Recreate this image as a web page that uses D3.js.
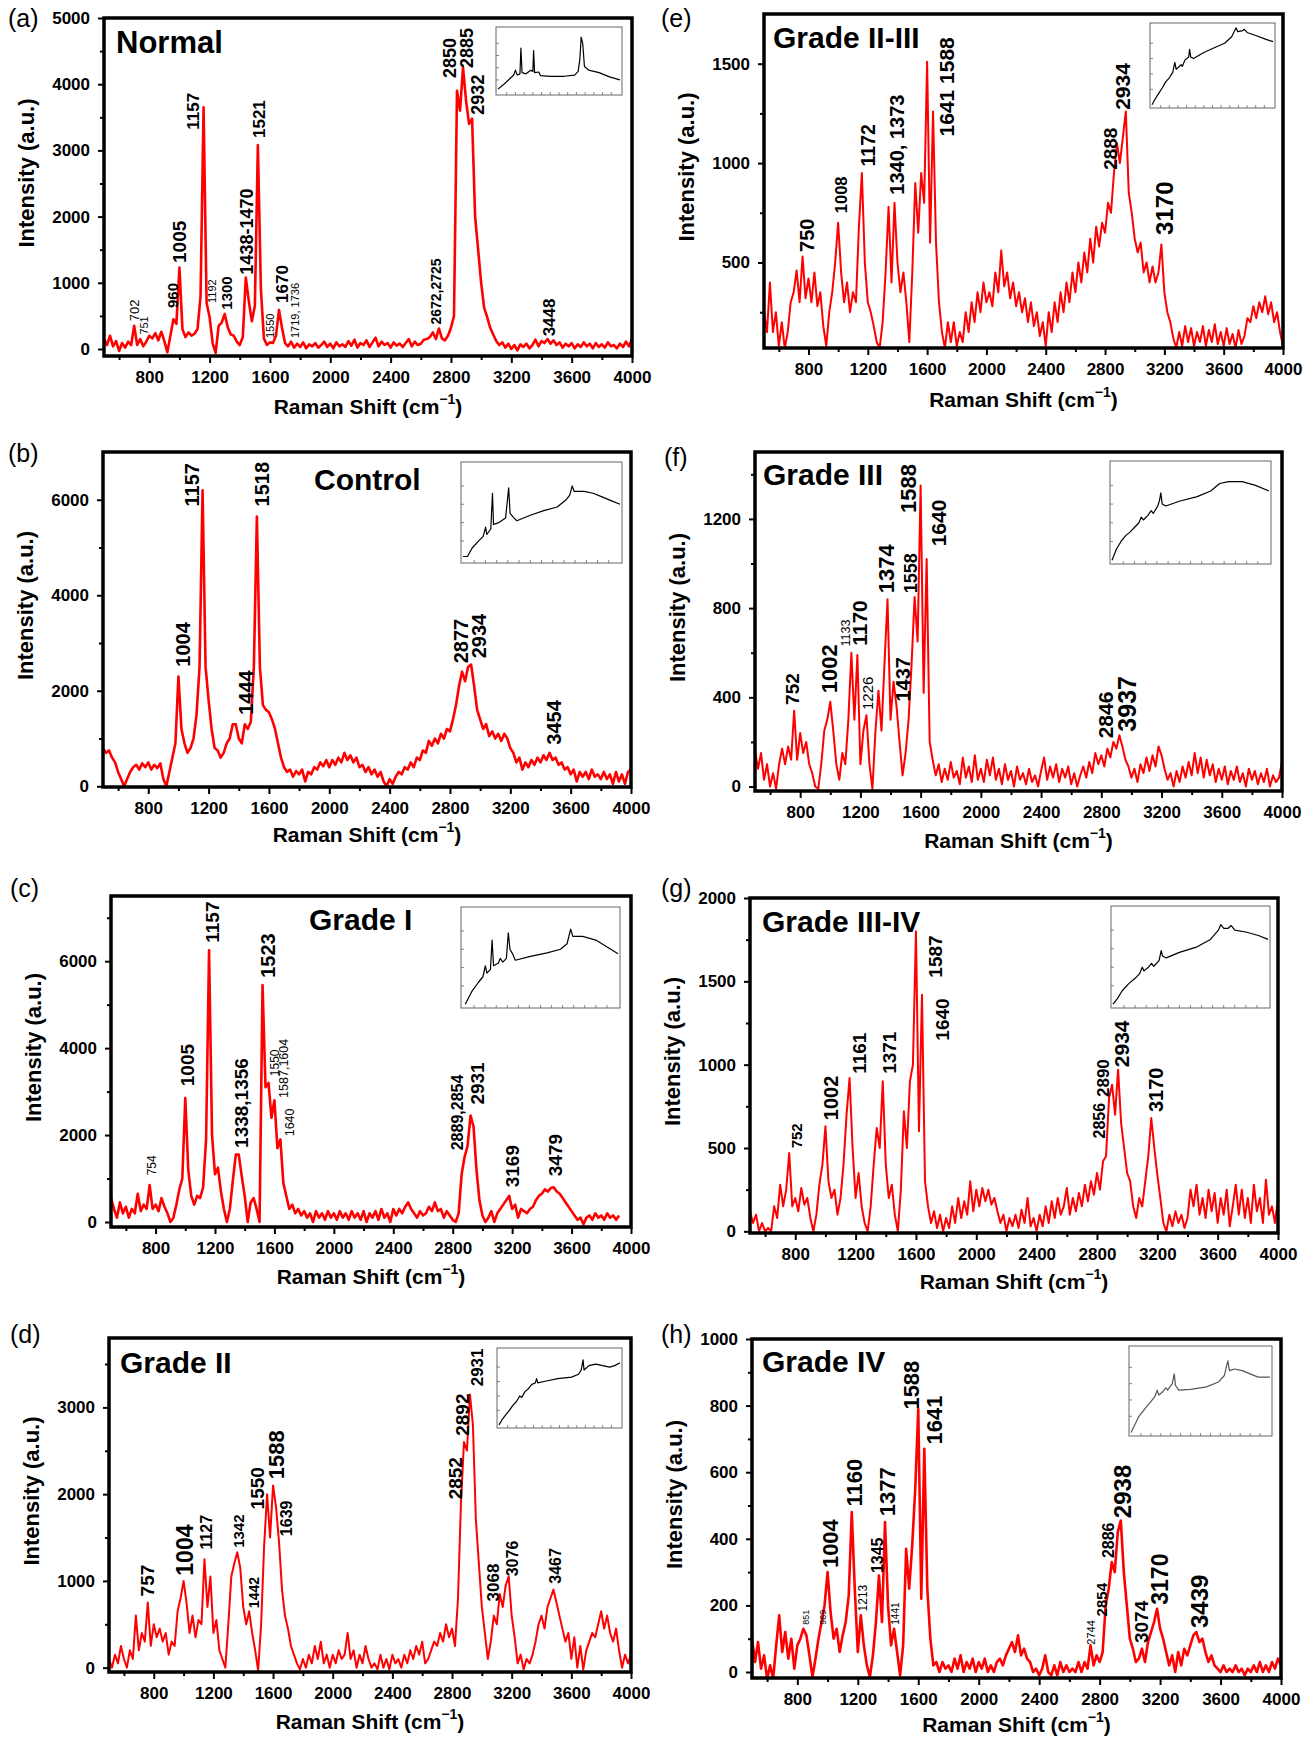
<!DOCTYPE html>
<html>
<head>
<meta charset="utf-8">
<script src="https://cdn.jsdelivr.net/npm/d3@7"></script>
<style>
  body { margin: 0; background: #fff; }
  svg text { font-family: "Liberation Sans", Arial, Helvetica, sans-serif; }
</style>
</head>
<body>
<svg id="fig" width="1315" height="1739"></svg>
<script>
// Raman shift sampling (cm-1), shared by all eight spectra
const shift = [
  500, 520, 540, 560, 580, 600, 620, 640, 660, 680,
  700, 720, 740, 760, 780, 800, 820, 840, 860, 880,
  900, 920, 940, 960, 980, 1000, 1020, 1040, 1060, 1080,
  1100, 1120, 1140, 1160, 1180, 1200, 1220, 1240, 1260, 1280,
  1300, 1320, 1340, 1360, 1380, 1400, 1420, 1440, 1460, 1480,
  1500, 1520, 1540, 1560, 1580, 1600, 1620, 1640, 1660, 1680,
  1700, 1720, 1740, 1760, 1780, 1800, 1820, 1840, 1860, 1880,
  1900, 1920, 1940, 1960, 1980, 2000, 2020, 2040, 2060, 2080,
  2100, 2120, 2140, 2160, 2180, 2200, 2220, 2240, 2260, 2280,
  2300, 2320, 2340, 2360, 2380, 2400, 2420, 2440, 2460, 2480,
  2500, 2520, 2540, 2560, 2580, 2600, 2620, 2640, 2660, 2680,
  2700, 2720, 2740, 2760, 2780, 2800, 2820, 2840, 2860, 2880,
  2900, 2920, 2940, 2960, 2980, 3000, 3020, 3040, 3060, 3080,
  3100, 3120, 3140, 3160, 3180, 3200, 3220, 3240, 3260, 3280,
  3300, 3320, 3340, 3360, 3380, 3400, 3420, 3440, 3460, 3480,
  3500, 3520, 3540, 3560, 3580, 3600, 3620, 3640, 3660, 3680,
  3700, 3720, 3740, 3760, 3780, 3800, 3820, 3840, 3860, 3880,
  3900, 3920, 3940, 3960, 3980, 4000
];

// Intensities (a.u.), one value per shift
const normal = [
  150, 60, 200, 40, 120, -30, 90, 20, 110, 60,
  350, 60, 150, 40, 110, 200, 160, 240, 130, 260,
  120, -50, 200, 450, 380, 1230, 300, 180, 250, 200,
  230, 300, 800, 3650, 700, 480, 90, -60, 350, 400,
  530, 330, 220, 200, 110, 60, 180, 1080, 720, 420,
  650, 3080, 900, 160, 60, 100, 90, 200, 590, 320,
  90, 40, 110, 20, 80, 30, 100, 10, 70, 40,
  90, 20, 60, 110, 30, 80, 10, 100, 40, 70,
  30, 120, 50, 140, 20, 90, 60, 130, 30, 100,
  170, 40, 110, 60, 90, 20, 100, 50, 80, 30,
  90, 150, 40, 110, 60, 80, 140, 150, 180, 250,
  150, 310, 160, 130, 200, 320, 500, 3900, 3600, 4250,
  3750, 3400, 3480, 2000, 1500, 1000, 620, 480, 320, 220,
  120, 60, 100, 20, 80, 0, 60, -20, 70, 30,
  80, 10, 60, 140, 40, 120, 90, 150, 80, 130,
  60, 100, 20, 80, 40, 90, 10, 70, 30, 100,
  40, 80, 10, 90, 30, 70, 20, 100, 40, 60,
  10, 80, 30, 110, 40, 150
];
const control = [
  800, 700, 750, 600, 500, 300, 150, 0, 150, 300,
  400, 450, 350, 480, 400, 500, 350, 450, 380, 480,
  150, 0, 300, 600, 900, 2300, 1200, 900, 700, 800,
  1000, 1500, 2500, 6200, 2500, 1800, 1200, 800, 750, 600,
  700, 900, 1000, 1300, 1300, 1000, 900, 1300, 1200, 1350,
  2500, 5650, 2500, 1700, 1600, 1550, 1400, 1200, 900, 600,
  400, 300, 350, 200, 320, 250, 350, 100, 300, 250,
  400, 350, 500, 420, 550, 400, 550, 450, 600, 500,
  700, 550, 650, 500, 600, 400, 450, 300, 400, 250,
  350, 200, 300, 100, 0, 150, 50, 200, 300, 250,
  400, 350, 500, 400, 600, 550, 750, 700, 950, 850,
  1000, 900, 1100, 1000, 1200, 1150, 1400, 1700, 2100, 2400,
  2200, 2500, 2550, 2100, 1600, 1400, 1200, 1300, 1050, 1150,
  1000, 1100, 950, 1100, 1000, 800, 700, 500, 600, 350,
  500, 400, 550, 450, 600, 500, 650, 550, 700, 550,
  600, 450, 500, 350, 400, 250, 350, 100, 300, 200,
  300, 150, 350, 200, 250, 150, 300, 150, 250, 50,
  300, 100, 250, 50, 300, 350
];
const gradeI = [
  550, 300, 100, 450, 200, 350, 100, 300, 200, 650,
  250, 400, 300, 850, 300, 400, 250, 550, 350, 200,
  0, 100, 400, 750, 1000, 2850, 1200, 600, 400, 600,
  550, 800, 1900, 6250, 2000, 1100, 1250, 700, 300, 0,
  300, 950, 1550, 1550, 1050, 600, 0, 450, 550, 300,
  0, 5450, 3100, 3200, 2400, 2800, 1700, 1900, 900, 600,
  300, 400, 200, 300, 150, 250, 100, 200, 0, 250,
  100, 200, 50, 250, 100, 200, 50, 250, 100, 200,
  50, 250, 100, 200, 50, 250, 0, 200, 100, 250,
  50, 300, 100, 200, 0, 300, 150, 300, 200, 350,
  450, 300, 200, 100, 250, 150, 200, 350, 250, 450,
  250, 300, 100, 250, 150, 50, 0, 200, 1100, 1500,
  1750, 2450, 2200, 1200, 500, 150, 0, 100, 250, 0,
  200, 300, 400, 500, 600, 300, 400, 100, 300, 250,
  200, 300, 350, 500, 600, 650, 750, 700, 780, 800,
  700, 650, 550, 450, 350, 250, 150, 50, 100, -50,
  100, 150, 50, 200, 100, 150, 50, 200, 100, 150,
  50, 150, null, null, null, null
];
const gradeII = [
  100, 0, 150, 50, 250, 100, 0, 200, 100, 600,
  200, 400, 300, 750, 250, 500, 350, 450, 300, 400,
  150, 300, 250, 650, 800, 1000, 750, 400, 600, 350,
  550, 500, 1250, 700, 1050, 400, 550, 200, 100, 0,
  500, 1050, 1200, 1330, 1150, 700, 500, 650, 400, 200,
  -30, 500, 1400, 2000, 1500, 2100, 1850, 1450, 900, 600,
  450, 250, 150, 50, -20, 100, 0, 150, 50, 250,
  100, 300, 50, 150, 0, 150, 50, 200, 100, 150,
  400, 100, 200, 0, 150, 50, 250, 100, 0, 50,
  -20, 150, 0, 100, -20, 150, 50, 100, 0, 150,
  50, 200, 100, 250, 150, 300, 50, 100, 200, 300,
  250, 400, 300, 500, 350, 450, 250, 800, 1900, 2600,
  2500, 3150, 2800, 1700, 1200, 700, 400, 100, 300, 600,
  500, 850, 700, 950, 1050, 600, 350, 50, 150, -20,
  100, 50, 150, 300, 500, 600, 450, 700, 800, 900,
  750, 600, 450, 300, 400, 100, 350, 0, 250, -20,
  200, 300, 400, 350, 500, 650, 450, 600, 400, 300,
  450, 200, 0, 150, 50, 150
];
const gradeIIIII = [
  250, 150, 400, 150, 250, 80, 200, 70, 150, 300,
  350, 460, 300, 530, 320, 420, 300, 450, 280, 350,
  180, 80, 250, 350, 500, 700, 450, 300, 400, 250,
  350, 300, 680, 950, 500, 300, 250, 180, 100, 70,
  200, 450, 780, 400, 800, 500, 350, 450, 300, 100,
  450, 900, 650, 950, 800, 1510, 600, 1260, 600, 300,
  150, 70, 200, 100, 200, 80, 150, 100, 250, 150,
  300, 200, 350, 250, 400, 300, 350, 280, 450, 350,
  560, 380, 450, 320, 400, 280, 350, 250, 320, 200,
  300, 180, 250, 130, 200, 80, 250, 150, 300, 200,
  350, 250, 400, 300, 450, 350, 500, 400, 550, 450,
  620, 500, 680, 580, 700, 650, 800, 750, 950, 1100,
  1000, 1130, 1260, 850, 750, 620, 550, 600, 450, 500,
  400, 480, 400, 450, 590, 350, 250, 200, 120, 70,
  150, 80, 180, 100, 170, 80, 150, 100, 180, 80,
  160, 100, 190, 90, 150, 80, 170, 90, 140, 70,
  160, 90, 130, 220, 200, 280, 220, 300, 250, 330,
  240, 300, 200, 250, 150, 80
];
const gradeIII = [
  160, 80, 150, 30, 100, 0, 60, -10, 100, 170,
  100, 180, 120, 340, 120, 240, 150, 200, 100, 60,
  0, -10, 100, 250, 300, 380, 250, 100, 30, 150,
  100, 300, 600, 300, 590, 100, 250, 320, 100, -10,
  250, 430, 250, 550, 840, 300, 470, 360, 200, 50,
  150, 300, 550, 850, 650, 1350, 420, 1020, 200, 120,
  50, 100, 20, 80, 30, 110, 40, 70, 10, 130,
  40, 90, 20, 140, 30, 80, 20, 120, 50, 130,
  30, 80, 10, 100, 30, 70, 0, 90, 30, 60,
  10, 80, 20, 50, 0, 70, 130, 30, 90, 40,
  100, 20, 80, 40, 90, 10, 60, 0, 50, 90,
  40, 110, 60, 150, 100, 140, 90, 170, 130, 200,
  170, 230, 180, 120, 90, 40, 80, 20, 100, 60,
  130, 70, 140, 90, 180, 140, 80, 30, 60, 0,
  70, 20, 90, 40, 110, 50, 150, 60, 130, 40,
  120, 50, 100, 20, 80, 30, 90, 10, 70, 30,
  90, 20, 60, 0, 80, 30, 70, 10, 60, 20,
  80, 0, 50, 20, 40, 110
];
const gradeIIIIV = [
  120, 50, 100, 0, 50, 0, 20, 0, 150, 80,
  280, 150, 250, 470, 150, 200, 120, 260, 160, 200,
  80, 0, 100, 280, 400, 630, 300, 200, 250, 100,
  200, 400, 700, 920, 500, 200, 350, 150, 50, 0,
  150, 400, 620, 500, 900, 400, 200, 280, 100, 0,
  250, 720, 500, 900, 1000, 1800, 600, 1420, 300, 150,
  50, 120, 20, 100, 0, 80, 20, 150, 50, 200,
  80, 180, 100, 300, 120, 250, 150, 260, 180, 250,
  160, 200, 120, 50, 100, 0, 80, 30, 100, 20,
  130, 50, 200, 30, 80, 0, 100, 30, 150, 50,
  180, 80, 200, 100, 150, 260, 100, 200, 120, 230,
  150, 280, 180, 300, 220, 350, 250, 420, 450, 800,
  880, 700, 970, 650, 500, 350, 300, 150, 80, 200,
  150, 300, 450, 680, 500, 340, 200, 50, 0, 100,
  30, 120, 50, 100, 20, 80, 250, 150, 280, 100,
  200, 80, 250, 120, 230, 50, 200, 100, 250, 30,
  150, 280, 100, 250, 80, 200, 50, 280, 120, 200,
  50, 310, 100, 150, 50, 200
];
const gradeIV = [
  100, 30, 90, 10, 50, -20, 20, -20, 80, 170,
  60, 120, 40, 100, 10, 80, 100, 130, 110, 50,
  -15, 40, 100, 150, 200, 300, 180, 100, 130, 60,
  110, 150, 230, 480, 250, 60, 170, 80, 20, -15,
  50, 150, 290, 150, 450, 200, 80, 130, 60, -10,
  80, 370, 250, 380, 550, 790, 220, 670, 250, 100,
  20, 30, 0, 30, 10, 20, 0, 40, 10, 50,
  0, 30, 10, 40, 0, 30, 10, 40, 0, 20,
  0, 30, 40, 20, 50, 70, 90, 60, 110, 50,
  70, 40, 30, 0, 10, -10, 10, 50, 0, -10,
  20, -10, 30, 0, 20, 0, 10, 0, 30, 0,
  30, 10, 80, 20, 50, 30, 60, 200, 250, 330,
  300, 420, 455, 300, 200, 100, 70, 30, 40, 70,
  30, 90, 120, 150, 190, 130, 100, 60, 20, 50,
  0, 60, 20, 70, 50, 80, 110, 120, 90, 100,
  60, 30, 50, 20, 10, 0, 20, 0, 10, 0,
  20, 0, 10, -10, 10, 0, 20, 0, 30, 0,
  20, 0, 30, 10, 40, 20
];

// Inset spectra (raw, with background), [shift, relative intensity]
const insetNormal = [[500,0.05],[650,0.12],[800,0.2],[950,0.28],[1000,0.36],[1050,0.28],[1130,0.3],[1157,0.72],[1190,0.32],[1300,0.3],[1440,0.36],[1500,0.34],[1521,0.68],[1550,0.32],[1670,0.33],[1720,0.27],[2000,0.26],[2400,0.26],[2700,0.28],[2800,0.34],[2850,0.55],[2885,0.9],[2930,0.8],[2980,0.42],[3100,0.36],[3400,0.32],[3700,0.25],[4000,0.2]];
const insetControl = [[500,0.03],[600,0.03],[700,0.12],[850,0.2],[950,0.25],[1004,0.35],[1030,0.27],[1120,0.33],[1157,0.72],[1180,0.38],[1300,0.4],[1450,0.45],[1518,0.78],[1550,0.5],[1620,0.46],[1700,0.42],[2000,0.48],[2300,0.53],[2600,0.57],[2800,0.65],[2880,0.7],[2934,0.8],[2980,0.74],[3200,0.74],[3400,0.72],[3600,0.68],[3800,0.64],[4000,0.6]];
const insetGradeI = [[550,0.0],[700,0.14],[850,0.24],[950,0.3],[1005,0.42],[1040,0.34],[1120,0.38],[1157,0.7],[1190,0.42],[1300,0.45],[1340,0.5],[1400,0.46],[1480,0.5],[1523,0.78],[1560,0.6],[1620,0.55],[1680,0.48],[2000,0.52],[2400,0.56],[2700,0.6],[2850,0.66],[2931,0.82],[2980,0.74],[3200,0.74],[3500,0.7],[3700,0.64],[4000,0.55]];
const insetGradeII = [[500,0.0],[600,0.08],[700,0.14],[800,0.2],[900,0.27],[1000,0.32],[1100,0.4],[1160,0.38],[1250,0.46],[1350,0.5],[1450,0.56],[1550,0.58],[1588,0.64],[1620,0.58],[1800,0.6],[2200,0.64],[2600,0.66],[2800,0.7],[2880,0.76],[2931,0.9],[2960,0.76],[3100,0.82],[3300,0.84],[3500,0.82],[3700,0.8],[3850,0.82],[4000,0.86]];
const insetGradeIIIII = [[500,0.0],[600,0.08],[700,0.15],[800,0.22],[900,0.3],[1000,0.35],[1100,0.42],[1160,0.55],[1200,0.46],[1340,0.52],[1380,0.5],[1450,0.58],[1560,0.62],[1588,0.72],[1620,0.62],[1700,0.6],[2000,0.68],[2300,0.74],[2600,0.8],[2800,0.88],[2934,1.0],[2980,0.95],[3100,0.96],[3170,0.98],[3250,0.94],[3500,0.9],[3800,0.85],[4000,0.82]];
const insetGradeIII = [[500,0.0],[600,0.12],[700,0.2],[800,0.26],[900,0.3],[1000,0.35],[1100,0.4],[1150,0.46],[1200,0.43],[1300,0.48],[1374,0.53],[1420,0.5],[1520,0.58],[1560,0.64],[1588,0.72],[1620,0.6],[1700,0.58],[2000,0.63],[2400,0.68],[2700,0.74],[2900,0.82],[3100,0.84],[3400,0.84],[3700,0.8],[4000,0.74]];
const insetGradeIIIIV = [[500,0.0],[600,0.06],[700,0.14],[850,0.22],[1000,0.28],[1100,0.33],[1161,0.4],[1200,0.36],[1300,0.4],[1371,0.44],[1420,0.41],[1540,0.47],[1588,0.58],[1620,0.52],[1700,0.5],[2000,0.56],[2400,0.62],[2700,0.7],[2880,0.8],[2934,0.86],[3000,0.82],[3100,0.82],[3170,0.85],[3250,0.8],[3500,0.78],[3800,0.74],[4000,0.7]];
const insetGradeIV = [[500,0.0],[600,0.1],[700,0.2],[800,0.26],[900,0.32],[1000,0.38],[1100,0.44],[1160,0.52],[1200,0.46],[1300,0.5],[1377,0.55],[1420,0.52],[1540,0.6],[1588,0.72],[1620,0.58],[1700,0.52],[2000,0.53],[2400,0.56],[2700,0.62],[2850,0.7],[2938,0.88],[2980,0.76],[3100,0.78],[3300,0.76],[3500,0.72],[3700,0.68],[4000,0.68]];

// Peak annotations: [label, shift at label centre, intensity at label foot, font px, weight]
const notesNormal = [
  ["702", 705, 418, 13, "normal"], ["751", 768, 217, 11, "normal"], ["960", 952, 619, 15, "bold"],
  ["1005", 1002, 1299, 19, "bold"], ["1157", 1090, 3313, 17, "bold"], ["1192", 1213, 695, 11, "normal"],
  ["1300", 1309, 594, 15, "bold"], ["1438-1470", 1447, 1123, 18, "bold"], ["1521", 1530, 3187, 17, "bold"],
  ["1550", 1598, 166, 11, "normal"], ["1670", 1681, 695, 17, "bold"], ["1719, 1736", 1769, 166, 11, "normal"],
  ["2672,2725", 2699, 368, 14, "bold"], ["2850", 2795, 4094, 18, "bold"], ["2885", 2905, 4245, 18, "bold"],
  ["2932", 2979, 3540, 18, "bold"], ["3448", 3455, 191, 17, "bold"]
];
const notesControl = [
  ["1004", 1028, 2505, 20, "bold"], ["1157", 1088, 5859, 20, "bold"], ["1444", 1445, 1496, 20, "bold"],
  ["1518", 1555, 5859, 20, "bold"], ["2877", 2870, 2575, 20, "bold"], ["2934", 2994, 2679, 20, "bold"],
  ["3454", 3490, 870, 20, "bold"]
];
const notesGradeI = [
  ["754", 773, 1074, 12, "normal"], ["1005", 1016, 3124, 19, "bold"], ["1157", 1186, 6424, 19, "bold"],
  ["1338,1356", 1378, 1704, 19, "bold"], ["1523", 1554, 5618, 20, "bold"], ["1550", 1602, 3354, 12, "normal"],
  ["1587,1604", 1666, 2855, 12.5, "normal"], ["1640", 1708, 1972, 12.5, "normal"],
  ["2889,2854", 2834, 1650, 16, "bold"], ["2931", 2965, 2701, 19, "bold"], ["3169", 3202, 798, 19, "bold"],
  ["3479", 3495, 1051, 19, "bold"]
];
const notesGradeII = [
  ["757", 757, 821, 19, "bold"], ["1004", 1007, 1060, 23, "bold"], ["1127", 1152, 1361, 16, "bold"],
  ["1342", 1369, 1381, 15, "bold"], ["1442", 1472, 686, 14, "bold"], ["1550", 1494, 1824, 19, "bold"],
  ["1588", 1620, 2171, 22, "bold"], ["1639", 1689, 1516, 16, "bold"], ["2852", 2824, 1940, 19, "bold"],
  ["2892", 2871, 2673, 19, "bold"], ["2931", 2969, 3243, 17, "bold"], ["3068", 3075, 764, 17, "bold"],
  ["3076", 3205, 1053, 16, "bold"], ["3467", 3497, 968, 16, "bold"]
];
const notesGradeIIIII = [
  ["750", 792, 553, 20, "bold"], ["1008", 1021, 748, 16.5, "bold"], ["1172", 1198, 983, 19.5, "bold"],
  ["1340, 1373", 1394, 841, 20, "bold"], ["1641 1588", 1729, 1134, 21, "bold"], ["2888", 2835, 966, 19, "bold"],
  ["2934", 2919, 1268, 21, "bold"], ["3170", 3198, 639, 24, "bold"]
];
const notesGradeIII = [
  ["752", 751, 366, 19, "bold"], ["1002", 993, 418, 22, "bold"], ["1133", 1104, 628, 12.5, "normal"],
  ["1170", 1192, 631, 21, "bold"], ["1226", 1247, 343, 15, "normal"], ["1374", 1371, 867, 22, "bold"],
  ["1437", 1481, 381, 20, "bold"], ["1558", 1536, 867, 18, "bold"], ["1588", 1517, 1227, 22, "bold"],
  ["1640", 1721, 1077, 21, "bold"], ["2846", 2831, 216, 21, "bold"], ["3937", 2969, 246, 25, "bold"]
];
const notesGradeIIIIV = [
  ["752", 810, 498, 15, "bold"], ["1002", 1040, 667, 20, "bold"], ["1161", 1224, 945, 19, "bold"],
  ["1371", 1425, 945, 19, "bold"], ["1587", 1732, 1522, 19, "bold"], ["1640", 1774, 1144, 19, "bold"],
  ["2856", 2819, 557, 16, "bold"], ["2890", 2841, 806, 17, "bold"], ["2934", 2965, 985, 21, "bold"],
  ["3170", 3190, 716, 20, "bold"]
];
const notesGradeIV = [
  ["851", 857, 142, 9, "normal"], ["969", 970, 142, 9, "normal"], ["1004", 1017, 312, 22, "bold"],
  ["1160", 1176, 497, 22, "bold"], ["1213", 1236, 182, 12, "normal"], ["1345", 1332, 297, 16, "bold"],
  ["1377", 1396, 468, 22, "bold"], ["1441", 1451, 142, 10, "normal"], ["1588", 1552, 788, 22, "bold"],
  ["1641", 1709, 683, 22, "bold"], ["2744", 2746, 82, 11, "normal"], ["2854", 2815, 167, 15, "bold"],
  ["2886", 2856, 342, 16, "bold"], ["2938", 2953, 462, 24, "bold"], ["3074", 3076, 87, 19, "bold"],
  ["3170", 3199, 202, 23, "bold"], ["3439", 3460, 132, 24, "bold"]
];

// Axis ticks
const xMajor = [800, 1200, 1600, 2000, 2400, 2800, 3200, 3600, 4000];
const xMinor = [600, 1000, 1400, 1800, 2200, 2600, 3000, 3400, 3800];
const insetTicksX = [750, 1000, 1250, 1500, 1750, 2000, 2250, 2500, 2750, 3000, 3250, 3500, 3750];
const insetTicksY = [0.2, 0.4, 0.6, 0.8];

const panels = [
  { letter: "(a)", title: "Normal", values: normal, inset: insetNormal, notes: notesNormal,
    l: 104, t: 18, r: 632, b: 356, yDomain: [-106, 5000],
    yTicks: [0, 1000, 2000, 3000, 4000, 5000], yMinor: [500, 1500, 2500, 3500, 4500],
    lx: 8, ly: 27, tx: 116, ty: 53, ts: 31, box: [496, 27, 622, 95], lw: 2.6, xtGap: 58 },
  { letter: "(b)", title: "Control", values: control, inset: insetControl, notes: notesControl,
    l: 103, t: 452, r: 631, b: 787, yDomain: [-15, 7000],
    yTicks: [0, 2000, 4000, 6000], yMinor: [1000, 3000, 5000],
    lx: 8, ly: 462, tx: 314, ty: 490, ts: 30, box: [461, 462, 622, 563], lw: 2.6, xtGap: 55 },
  { letter: "(c)", title: "Grade I", values: gradeI, inset: insetGradeI, notes: notesGradeI,
    l: 111, t: 896, r: 631, b: 1227, yDomain: [-115, 7500],
    yTicks: [0, 2000, 4000, 6000], yMinor: [1000, 3000, 5000, 7000],
    lx: 10, ly: 897, tx: 309, ty: 930, ts: 30, box: [461, 907, 620, 1008], lw: 2.6, xtGap: 57 },
  { letter: "(d)", title: "Grade II", values: gradeII, inset: insetGradeII, notes: notesGradeII,
    l: 109, t: 1338, r: 631, b: 1672, yDomain: [-50, 3800],
    yTicks: [0, 1000, 2000, 3000], yMinor: [500, 1500, 2500, 3500],
    lx: 10, ly: 1343, tx: 120, ty: 1373, ts: 30, box: [497, 1348, 622, 1428], lw: 2.0, xtGap: 57 },
  { letter: "(e)", title: "Grade II-III", values: gradeIIIII, inset: insetGradeIIIII, notes: notesGradeIIIII,
    l: 764, t: 14, r: 1283, b: 348, yDomain: [70, 1750],
    yTicks: [500, 1000, 1500], yMinor: [250, 750, 1250],
    lx: 661, ly: 27, tx: 773, ty: 48, ts: 30, box: [1150, 23, 1275, 108], lw: 2.0, xtGap: 59 },
  { letter: "(f)", title: "Grade III", values: gradeIII, inset: insetGradeIII, notes: notesGradeIII,
    l: 755, t: 452, r: 1282, b: 791, yDomain: [-20, 1500],
    yTicks: [0, 400, 800, 1200], yMinor: [200, 600, 1000, 1400],
    lx: 664, ly: 466, tx: 763, ty: 485, ts: 30, box: [1110, 461, 1271, 564], lw: 2.0, xtGap: 57 },
  { letter: "(g)", title: "Grade III-IV", values: gradeIIIIV, inset: insetGradeIIIIV, notes: notesGradeIIIIV,
    l: 750, t: 898, r: 1278, b: 1233, yDomain: [-10, 2000],
    yTicks: [0, 500, 1000, 1500, 2000], yMinor: [250, 750, 1250, 1750],
    lx: 661, ly: 897, tx: 762, ty: 932, ts: 30, box: [1111, 906, 1270, 1008], lw: 2.0, xtGap: 56 },
  { letter: "(h)", title: "Grade IV", values: gradeIV, inset: insetGradeIV, notes: notesGradeIV,
    l: 752, t: 1339, r: 1281, b: 1678, yDomain: [-18, 1000],
    yTicks: [0, 200, 400, 600, 800, 1000], yMinor: [100, 300, 500, 700, 900],
    lx: 661, ly: 1343, tx: 762, ty: 1372, ts: 30, box: [1129, 1346, 1272, 1436], lw: 2.6, xtGap: 54,
    insetColor: "#555" }
];

const fig = d3.select("#fig");
const defs = fig.append("defs");

function styleAxis(sel) {
  sel.select(".domain").remove();
  sel.selectAll(".tick line").attr("stroke", "#000").attr("stroke-width", 2);
  sel.attr("font-family", "Liberation Sans, Arial, sans-serif")
     .attr("font-size", 17).attr("font-weight", "bold");
  sel.selectAll(".tick text").attr("fill", "#000");
}

function drawInset(g, p) {
  const [x0, y0, x1, y1] = p.box;
  const ix = d3.scaleLinear().domain([500, 4000]).range([x0 + 2, x1 - 2]);
  const iy = d3.scaleLinear().domain([-0.03, 1.05]).range([y1 - 1, y0 + 1]);
  g.append("rect").attr("x", x0).attr("y", y0).attr("width", x1 - x0).attr("height", y1 - y0)
    .attr("fill", "#fff").attr("stroke", "#666").attr("stroke-width", 1);
  g.append("g").selectAll("line").data(insetTicksX).join("line")
    .attr("x1", d => ix(d)).attr("x2", d => ix(d)).attr("y1", y1).attr("y2", y1 - 3)
    .attr("stroke", "#666").attr("stroke-width", 0.8);
  g.append("g").selectAll("line").data(insetTicksY).join("line")
    .attr("x1", x0).attr("x2", x0 + 3).attr("y1", d => iy(d)).attr("y2", d => iy(d))
    .attr("stroke", "#666").attr("stroke-width", 0.8);
  g.append("path").datum(p.inset)
    .attr("fill", "none").attr("stroke", p.insetColor || "#000").attr("stroke-width", 1.2)
    .attr("stroke-linejoin", "round")
    .attr("d", d3.line().x(d => ix(d[0])).y(d => iy(d[1])));
}

panels.forEach((p, k) => {
  const g = fig.append("g");
  const x = d3.scaleLinear().domain([500, 4000]).range([p.l, p.r]);
  const y = d3.scaleLinear().domain(p.yDomain).range([p.b, p.t]);

  defs.append("clipPath").attr("id", "clip" + k).append("rect")
    .attr("x", p.l).attr("y", p.t).attr("width", p.r - p.l).attr("height", p.b - p.t);

  // spectrum
  const pts = shift.map((s, i) => [s, p.values[i]]);
  g.append("path").datum(pts)
    .attr("clip-path", `url(#clip${k})`)
    .attr("fill", "none").attr("stroke", "#ff0000").attr("stroke-width", p.lw)
    .attr("stroke-linejoin", "round")
    .attr("d", d3.line().defined(d => d[1] !== null).x(d => x(d[0])).y(d => y(d[1])));

  // axes
  g.append("g").attr("transform", `translate(0,${p.b})`)
    .call(d3.axisBottom(x).tickValues(xMajor).tickSize(7).tickPadding(8).tickFormat(d3.format("d")))
    .call(styleAxis);
  g.append("g").attr("transform", `translate(0,${p.b})`)
    .call(d3.axisBottom(x).tickValues(xMinor).tickSize(4).tickFormat(""))
    .call(styleAxis);
  g.append("g").attr("transform", `translate(${p.l},0)`)
    .call(d3.axisLeft(y).tickValues(p.yTicks).tickSize(6).tickPadding(8).tickFormat(d3.format("d")))
    .call(styleAxis);
  g.append("g").attr("transform", `translate(${p.l},0)`)
    .call(d3.axisLeft(y).tickValues(p.yMinor).tickSize(4).tickFormat(""))
    .call(styleAxis);

  // frame
  g.append("rect").attr("x", p.l).attr("y", p.t).attr("width", p.r - p.l).attr("height", p.b - p.t)
    .attr("fill", "none").attr("stroke", "#000").attr("stroke-width", 3.5);

  // axis titles
  const xt = g.append("text").attr("x", (p.l + p.r) / 2).attr("y", p.b + p.xtGap)
    .attr("text-anchor", "middle").attr("font-size", 21).attr("font-weight", "bold");
  xt.append("tspan").text("Raman Shift (cm");
  xt.append("tspan").attr("font-size", 14).attr("dy", -10).text("\u22121");
  xt.append("tspan").attr("dy", 10).text(")");
  g.append("text")
    .attr("transform", `translate(${p.l - 78},${(p.t + p.b) / 2 - 14}) rotate(-90)`)
    .attr("text-anchor", "middle").attr("dominant-baseline", "central")
    .attr("font-size", 22).attr("font-weight", "bold").text("Intensity (a.u.)");

  // panel letter and title
  g.append("text").attr("x", p.lx).attr("y", p.ly).attr("font-size", 25).text(p.letter);
  g.append("text").attr("x", p.tx).attr("y", p.ty).attr("font-size", p.ts)
    .attr("font-weight", "bold").text(p.title);

  drawInset(g, p);

  // peak labels
  g.append("g").selectAll("text").data(p.notes).join("text")
    .attr("transform", d => `translate(${x(d[1])},${y(d[2])}) rotate(-90)`)
    .attr("dominant-baseline", "central")
    .attr("font-size", d => d[3]).attr("font-weight", d => d[4])
    .text(d => d[0]);
});
</script>
</body>
</html>
